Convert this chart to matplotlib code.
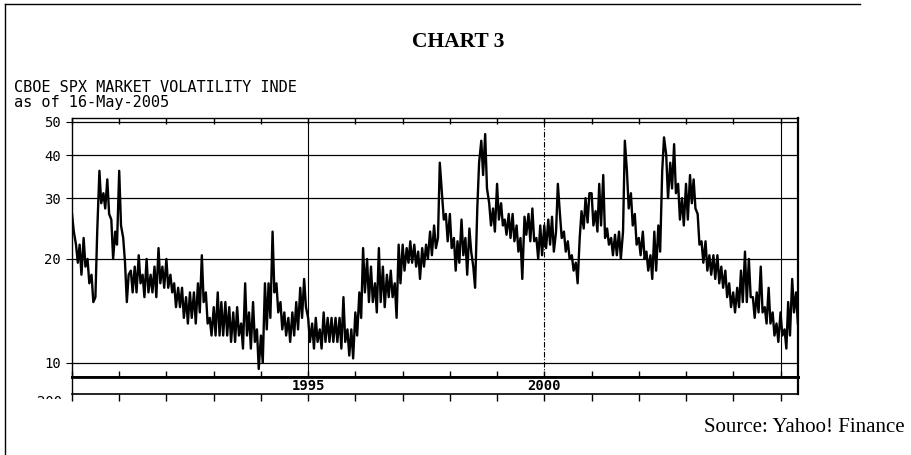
import numpy as np
import pandas as pd
import matplotlib
matplotlib.use('Agg')
import matplotlib.pyplot as plt
import matplotlib.dates as mdates
from matplotlib.lines import Line2D
from matplotlib.patches import Rectangle
from matplotlib.ticker import NullLocator

# VIX, two readings per month (1st / 15th), Jan 1990 .. May 2005
vix_1990 = [27, 24, 22, 19.5, 22, 18, 23, 19, 20, 17, 18, 15, 15.5, 24, 36, 29, 31, 28, 34, 27, 26, 20, 24, 22]
vix_1991 = [36, 25, 23, 19.5, 15, 18, 18.5, 16, 19, 16, 20.5, 17, 18, 15.5, 20, 16, 18, 16, 19, 15.5, 21.5, 17, 19, 16.5]
vix_1992 = [20, 16.5, 18, 16, 17, 14.5, 16.5, 14.5, 16.5, 13.5, 15.5, 13, 16, 13.5, 16, 13, 17, 14, 20.5, 15, 16, 13, 13.5, 12]
vix_1993 = [14.5, 12, 16, 12, 15, 12, 15, 12, 14.5, 11.5, 14, 11.5, 14.5, 12, 13, 11, 17, 12, 14, 11, 15, 11.5, 12.5, 9.6]
vix_1994 = [12, 10, 17, 12.5, 17, 13.5, 24, 16, 17, 14, 15, 12.5, 14, 12, 13.5, 11.5, 14, 12, 15, 12.5, 16.5, 13.5, 17.5, 14.5]
vix_1995 = [13.5, 11.5, 13, 11, 13.5, 11.5, 12.5, 11, 14, 11.5, 13.5, 11.5, 13.5, 11.5, 13.5, 11.5, 13.5, 11, 15.5, 11.5, 12.5, 10.5, 12.5, 10.3]
vix_1996 = [14, 12, 16, 13.5, 21.5, 16, 20, 15, 19, 15, 17, 14, 21.5, 15, 19, 14.5, 18, 15.5, 18.5, 15.5, 17, 13.5, 22, 17]
vix_1997 = [22, 18.5, 21.5, 19.5, 22.5, 19.5, 22, 19, 21, 17.5, 21.5, 19, 22, 20, 24, 20.5, 25, 21.5, 23, 38, 31, 26, 27, 22.5]
vix_1998 = [27, 21.5, 23, 18.5, 22.5, 19.5, 26, 20.5, 23, 18, 24.5, 21, 19, 16.5, 28, 38, 44, 35, 46, 32, 29, 25, 28, 24]
vix_1999 = [33, 26, 29, 25, 26, 23.5, 27, 23, 27, 22.5, 25, 21, 23, 17.5, 26.5, 23.5, 27, 22.5, 28, 22.5, 23, 20, 25, 20.5]
vix_2000 = [25, 21.5, 26, 22, 26.5, 21, 24, 33, 27, 23, 24, 21, 22.5, 20, 20.5, 18.5, 19.5, 17, 23, 27.5, 24.5, 30, 25.5, 31]
vix_2001 = [31, 25, 27.5, 24, 33, 25, 35, 23, 24.5, 22, 23, 20.5, 23.5, 20.5, 24, 20, 24, 44, 36, 28, 31, 25, 27, 22]
vix_2002 = [23, 20.5, 24, 20, 21, 18.5, 20.5, 17.5, 24, 18.5, 25, 21, 36, 45, 40, 30, 38, 32, 43, 31, 33, 26, 30, 25]
vix_2003 = [33, 26, 35, 29, 34, 28, 27, 22, 22.5, 19.5, 22.5, 18.5, 20.5, 18, 20.5, 17.5, 20.5, 17, 19, 16.5, 18.5, 15.5, 17, 14.5]
vix_2004 = [16, 14, 16.5, 14.5, 18.5, 15, 21, 15, 20, 15.5, 15.5, 13.5, 16, 14, 19, 14, 14.5, 13, 16.5, 13, 14, 12, 13, 11.5]
vix_2005 = [14, 12, 12.5, 11, 15, 12, 17.5, 14, 16, 13]

vix = (vix_1990 + vix_1991 + vix_1992 + vix_1993 + vix_1994 + vix_1995 + vix_1996 + vix_1997
       + vix_1998 + vix_1999 + vix_2000 + vix_2001 + vix_2002 + vix_2003 + vix_2004 + vix_2005)
dates = pd.date_range('1990-01-01', periods=len(vix), freq='SMS')

y_ticks = [10, 20, 30, 40, 50]
grid_years = [1995, 2000, 2005]
grid_styles = ['-', (0, (5, 1.5, 1, 1.5)), '-']
year_labels = ['1995', '2000']

W, H = 911, 455
plt.rcParams['font.family'] = 'DejaVu Sans Mono'

fig = plt.figure(figsize=(W / 100, H / 100), dpi=100)
fig.patch.set_facecolor('white')

# main price panel and the empty volume strip under it
ax = fig.add_axes([72 / W, 1 - 377 / H, 726 / W, 259 / H])
ax2 = fig.add_axes([72 / W, 1 - 394 / H, 726 / W, 17 / H], sharex=ax)

ax.plot(dates, vix, color='black', lw=1.7)
ax.set_yscale('log')
ax.set_ylim(9.1, 51.2)
ax.set_yticks(y_ticks)
ax.set_yticklabels([str(t) for t in y_ticks])
ax.yaxis.set_minor_locator(NullLocator())
ax.grid(axis='y', color='black', lw=0.9)
for yr, ls in zip(grid_years, grid_styles):
    ax.axvline(pd.Timestamp(f'{yr}-01-01'), color='black', lw=0.8, ls=ls)

ax.set_xlim(pd.Timestamp('1990-01-01'), pd.Timestamp('2005-05-16'))
ax.xaxis.set_major_locator(mdates.YearLocator(1))
ax.tick_params(axis='x', direction='in', top=True, bottom=True, length=4,
               labelbottom=False, width=1)
ax.tick_params(axis='y', direction='out', length=4, labelsize=10, pad=4)
for side, lw in [('left', 1), ('top', 1), ('right', 1.6), ('bottom', 2)]:
    ax.spines[side].set_linewidth(lw)

ax2.set_ylim(0, 1)
ax2.set_yticks([])
ax2.tick_params(axis='x', direction='out', length=5, labelbottom=False, width=1)
for side, lw in [('left', 1), ('top', 2), ('right', 1.6), ('bottom', 1.2)]:
    ax2.spines[side].set_linewidth(lw)
for lab in year_labels:
    ax2.text(pd.Timestamp(f'{lab}-01-01'), 0.45, lab, transform=ax2.get_xaxis_transform(),
             ha='center', va='center', fontsize=10, fontweight='bold')

# volume axis label, cut off by the page edge in the scan
fig.text(62 / W, 1 - 395 / H, '200', ha='right', va='top', fontsize=10)
fig.add_artist(Rectangle((20 / W, 1 - 430 / H), 48 / W, 31.5 / H, transform=fig.transFigure,
                         facecolor='white', edgecolor='none', zorder=10))

# headings
fig.text(458 / W, 1 - 42 / H, 'CHART 3', ha='center', va='center', fontsize=15.5,
         fontweight='bold', family='Liberation Serif')
fig.text(14 / W, 1 - 87 / H, 'CBOE SPX MARKET VOLATILITY INDE', ha='left', va='center', fontsize=11)
fig.text(14 / W, 1 - 103 / H, 'as of 16-May-2005', ha='left', va='center', fontsize=11)
fig.text(905 / W, 1 - 428 / H, 'Source: Yahoo! Finance', ha='right', va='center', fontsize=15,
         family='Liberation Serif')

# page frame
fig.add_artist(Line2D([5 / W, 5 / W], [1 - 4 / H, 0], transform=fig.transFigure, color='black', lw=1))
fig.add_artist(Line2D([5 / W, 860 / W], [1 - 4 / H, 1 - 4 / H], transform=fig.transFigure, color='black', lw=1))

fig.savefig('out.png', dpi=100, facecolor='white')
